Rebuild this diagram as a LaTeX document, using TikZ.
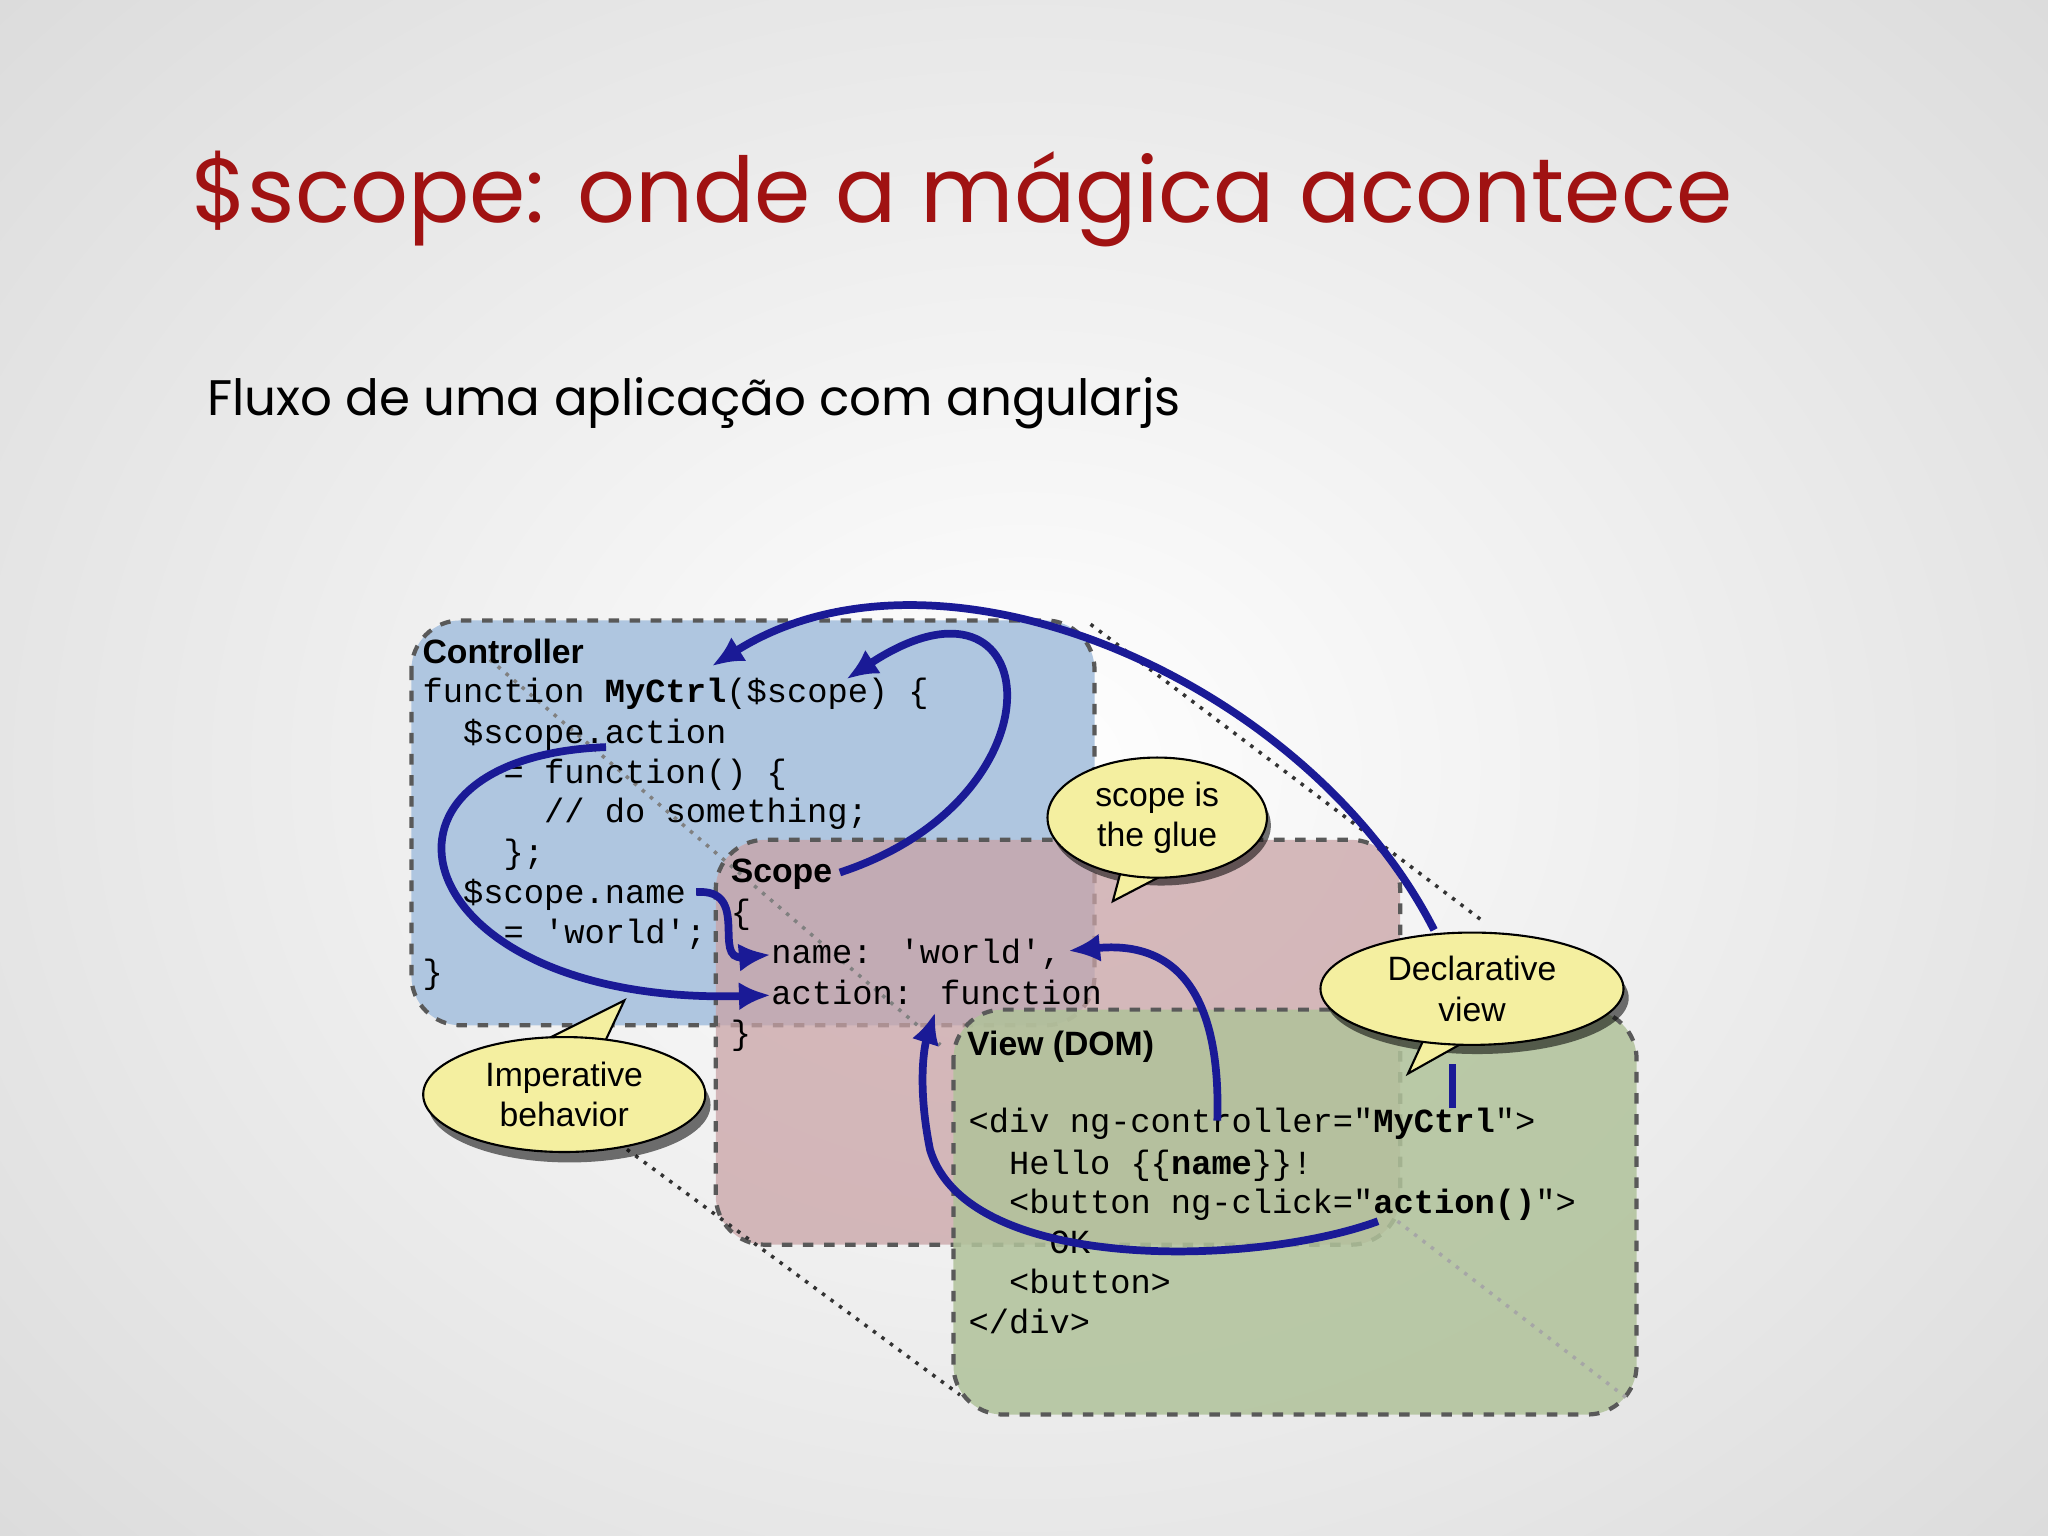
\documentclass[tikz,border=0pt]{standalone}
\usepackage{fontspec}
\setmainfont{Liberation Sans}
\newfontfamily\titlefont{Poppins}
\newfontfamily\codefont{Liberation Mono}
\usetikzlibrary{arrows.meta,shapes.geometric}
\definecolor{ttl}{HTML}{A01212}
\definecolor{navy}{HTML}{1A1A96}
\definecolor{bub}{HTML}{F4EFA0}
\definecolor{cblue}{HTML}{AFC6E0}
\definecolor{cpink}{HTML}{C9A3A6}
\definecolor{cgreen}{HTML}{B0C29A}
\tikzset{
 box/.style={draw=gray!70!black,dashed,line width=1.2pt,rounded corners=14pt},
 code/.style={anchor=base west,inner sep=0pt,font=\codefont\fontsize{9.6pt}{11pt}\selectfont},
 lbl/.style={anchor=base west,inner sep=0pt,font=\bfseries\fontsize{9.6pt}{12pt}\selectfont},
 btxt/.style={align=center,font=\fontsize{9.6pt}{11.5pt}\selectfont,inner sep=0pt},
 flow/.style={draw=navy,line width=2.2pt,-{Latex[length=9pt,width=8pt]}},
 dots/.style={dotted,line width=1pt,black!80}
}
\begin{document}
\begin{tikzpicture}[x=0.01306cm,y=-0.01306cm]
\path[use as bounding box] (0,0) rectangle (1568,1176);
\shade[inner color=white,outer color=gray!28] (-300,-300) rectangle (1868,1476);
\node[anchor=base west,inner sep=0pt,text=ttl,font=\titlefont\fontsize{25.8pt}{28pt}\selectfont] (title) at (146,170) {\$scope: onde a mágica acontece};
\node[anchor=base west,inner sep=0pt,font=\titlefont\fontsize{14.2pt}{16pt}\selectfont] (sub) at (158,318) {Fluxo de uma aplicação com angularjs};
% boxes
\draw[box,fill=cblue] (315,475) rectangle (838,785);
\draw[box,fill=cpink,fill opacity=0.75] (548,643) rectangle (1072,953);
\draw[box,fill=cgreen,fill opacity=0.85] (730,773) rectangle (1253,1083);
% dotted guide lines
\coordinate (d1) at (835,478); \coordinate (d2) at (1135,705);
\coordinate (d3) at (480,880); \coordinate (d4) at (735,1068);
\draw[dots] (d1) -- (d2);
\draw[dots] (d3) -- (d4);
\coordinate (d5) at (375,505); \coordinate (d6) at (720,800);
\draw[dots,black!50] (d5) -- (d6);
\coordinate (d7) at (1070,935); \coordinate (d8) at (1245,1070);
\draw[dots,black!35] (d7) -- (d8);
% labels
\node[lbl] (lc) at (323,508) {Controller};
\node[lbl] (ls) at (559,676) {Scope};
\node[lbl] (lv) at (740,808) {View (DOM)};
% controller code
\node[code] (c1) at (323,538) {function \textbf{MyCtrl}(\$scope) \{};
\node[code] (c2) at (323,569) {\ \ \$scope.action};
\node[code] (c3) at (323,600) {\ \ \ \ = function() \{};
\node[code] (c4) at (323,630) {\ \ \ \ \ \ // do something;};
\node[code] (c5) at (323,661) {\ \ \ \ \};};
\node[code] (c6) at (323,692) {\ \ \$scope.name};
\node[code] (c7) at (323,722) {\ \ \ \ = 'world';};
\node[code] (c8) at (323,753) {\}};
% scope code
\node[code] (s1) at (559,707) {\{};
\node[code] (s2) at (559,738) {\ \ name: 'world',};
\node[code] (s3) at (559,769) {\ \ action: function};
\node[code] (s4) at (559,800) {\}};
% view code
\node[code] (v1) at (741,867) {<div ng-controller="\textbf{MyCtrl}">};
\node[code] (v2) at (741,899) {\ \ Hello \{\{\textbf{name}\}\}!};
\node[code] (v3) at (741,929) {\ \ <button ng-click="\textbf{action()}">};
\node[code] (v4) at (741,960) {\ \ \ \ OK};
\node[code] (v5) at (741,990) {\ \ <button>};
\node[code] (v6) at (741,1021) {</div>};
% bubbles
\fill[black,opacity=0.55] (436,846) ellipse (108 and 44);
\draw[fill=bub,line width=0.6pt] (400,805) -- (478,766) -- (462,800) -- cycle;
\draw[fill=bub,line width=0.6pt] (432,838) ellipse (108 and 44);
\node[btxt] (b1) at (432,838) {Imperative\\behavior};
\fill[black,opacity=0.55] (889,632) ellipse (84 and 46);
\draw[fill=bub,line width=0.6pt] (860,660) -- (852,690) -- (900,665) -- cycle;
\draw[fill=bub,line width=0.6pt] (886,626) ellipse (84 and 46);
\node[btxt] (b2) at (886,626) {scope is\\the glue};
\fill[black,opacity=0.55] (1131,764) ellipse (116 and 43);
\draw[fill=bub,line width=0.6pt] (1095,785) -- (1078,822) -- (1135,790) -- cycle;
\draw[fill=bub,line width=0.6pt] (1127,757) ellipse (116 and 43);
\node[btxt] (b3) at (1127,757) {Declarative\\view};
% flow arrows
\coordinate (a1s) at (1098,712); \coordinate (a1e) at (545,510);
\draw[flow] (a1s) .. controls (1000,520) and (720,400) .. (a1e);
\coordinate (t1) at (1112,815); \coordinate (t2) at (1112,848);
\draw[navy,line width=2.2pt] (t1) -- (t2);
\coordinate (a2s) at (643,668); \coordinate (a2e) at (648,520);
\draw[flow] (a2s) .. controls (820,610) and (800,420) .. (a2e);
\coordinate (a3s) at (464,572); \coordinate (a3e) at (590,762);
\draw[flow] (a3s) .. controls (260,580) and (310,770) .. (a3e);
\coordinate (a4s) at (533,683); \coordinate (a4e) at (590,731);
\draw[flow] (a4s) .. controls (575,680) and (545,735) .. (a4e);
\coordinate (a5s) at (932,858); \coordinate (a5e) at (818,728);
\draw[flow] (a5s) .. controls (935,760) and (900,720) .. (a5e);
\coordinate (a6s) at (1055,935); \coordinate (a6e) at (716,775);
\draw[flow] (a6s) .. controls (960,970) and (740,975) .. (712,880) .. controls (702,830) and (708,800) .. (a6e);
\end{tikzpicture}
\end{document}
